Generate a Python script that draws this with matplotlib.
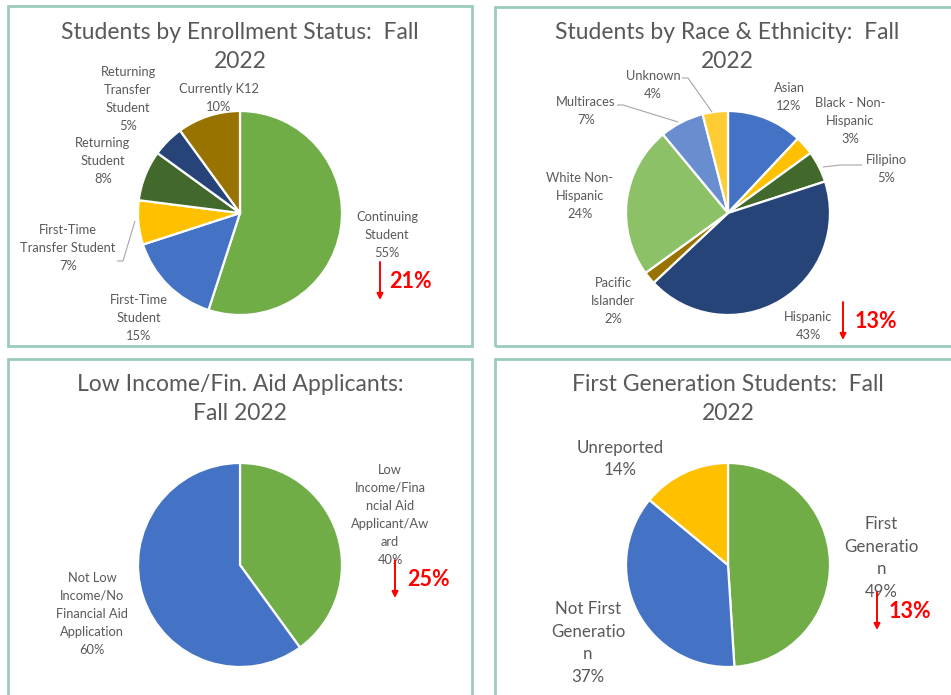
import matplotlib
matplotlib.use("Agg")
import matplotlib.pyplot as plt
from matplotlib.patches import Rectangle

plt.rcParams['font.family'] = ['Lato', 'DejaVu Sans']

# ---------------- data ----------------
enroll_title = "Students by Enrollment Status:  Fall\n2022"
enroll_labels = ["Continuing\nStudent", "First-Time\nStudent", "First-Time\nTransfer Student",
                 "Returning\nStudent", "Returning\nTransfer\nStudent", "Currently K12"]
enroll_values = [55, 15, 7, 8, 5, 10]

race_title = "Students by Race & Ethnicity:  Fall\n2022"
race_labels = ["Asian", "Black - Non-\nHispanic", "Filipino", "Hispanic", "Pacific\nIslander",
               "White Non-\nHispanic", "Multiraces", "Unknown"]
race_values = [12, 3, 5, 43, 2, 24, 7, 4]

income_title = "Low Income/Fin. Aid Applicants:\nFall 2022"
income_labels = ["Low\nIncome/Fina\nncial Aid\nApplicant/Aw\nard", "Not Low\nIncome/No\nFinancial Aid\nApplication"]
income_values = [40, 60]

firstgen_title = "First Generation Students:  Fall\n2022"
firstgen_labels = ["First\nGeneratio\nn", "Not First\nGeneratio\nn", "Unreported"]
firstgen_values = [49, 37, 14]

change_labels = ["21%", "13%", "25%", "13%"]

# ---------------- style ----------------
GREEN, BLUE, YELLOW = '#70AD47', '#4472C4', '#FFC000'
DKGREEN, NAVY, GOLD = '#43682B', '#264478', '#997300'
LTGREEN, LTBLUE, LTYELLOW = '#8CC168', '#698ED0', '#FFCD33'
TXT = '#595959'
BORDER = '#9CCBBA'
LEADER = '#A6A6A6'

W, H = 951, 695
fig = plt.figure(figsize=(W / 100, H / 100), dpi=100)
ax = fig.add_axes([0, 0, 1, 1])


def P(x, y):
    return (x, H - y)


# panel borders
for (x0, y0, x1, y1) in [(8, 6, 472, 346), (495, 7, 960, 346), (8, 359, 472, 705), (495, 359, 960, 705)]:
    ax.add_patch(Rectangle(P(x0, y1), x1 - x0, y1 - y0, fill=False, edgecolor=BORDER, lw=2.0))

wp = dict(edgecolor='white', linewidth=1.6)
R = 102


def pie(values, colors, cx, cy, r=R):
    ax.pie(values, colors=colors, startangle=90, counterclock=False,
           center=P(cx, cy), radius=r, wedgeprops=wp, frame=True)


def title(s, cx, cy):
    ax.text(*P(cx, cy), s, ha='center', va='center', fontsize=16.5, color=TXT,
            linespacing=1.42, multialignment='center')


def lab(s, v, x, y, fs=9.3, ls=1.62):
    ax.text(*P(x, y), f"{s}\n{v}%", ha='center', va='center', fontsize=fs, color=TXT,
            linespacing=ls, multialignment='center')


def leader(pts):
    xs = [p[0] for p in pts]
    ys = [H - p[1] for p in pts]
    ax.plot(xs, ys, color=LEADER, lw=0.8, solid_capstyle='butt')


def change(s, ax_x, y0, y1, tx):
    ax.annotate('', xy=P(ax_x, y1), xytext=P(ax_x, y0),
                arrowprops=dict(arrowstyle='-|>', color='#FF0000', lw=1.4, mutation_scale=9,
                                shrinkA=0, shrinkB=0))
    ax.text(*P(tx, (y0 + y1) / 2), s, ha='left', va='center', fontsize=15.5,
            fontweight='bold', color='#FF0000')


# ---- panel 1 ----
title(enroll_title, 240, 47)
pie(enroll_values, [GREEN, BLUE, YELLOW, DKGREEN, NAVY, GOLD], 240, 213)
enroll_pos = [(387, 235), (139, 318), (68, 248), (103, 161), (128, 99), (219, 98)]
for s, v, (x, y) in zip(enroll_labels, enroll_values, enroll_pos):
    lab(s, v, x, y)
leader([(117, 261), (123, 261), (135, 221)])
change(change_labels[0], 380, 262, 300, 389)

# ---- panel 2 ----
title(race_title, 727, 47)
pie(race_values, [BLUE, YELLOW, DKGREEN, NAVY, GOLD, LTGREEN, LTBLUE, LTYELLOW], 728, 213)
race_pos = [(789, 97), (850, 121), (886, 169), (808, 326), (613, 301), (580, 196), (586, 111), (653, 85)]
for s, v, (x, y) in zip(race_labels, race_values, race_pos):
    lab(s, v, x, y)
leader([(682, 78), (688, 78), (712, 112)])
leader([(617, 105), (623, 105), (678, 122)])
leader([(862, 165), (840, 165), (823, 167)])
change(change_labels[1], 843, 302, 340, 855)

# ---- panel 3 ----
title(income_title, 240, 399)
pie(income_values, [GREEN, BLUE], 240, 565)
lab(income_labels[0], income_values[0], 390, 515)
lab(income_labels[1], income_values[1], 92, 614)
change(change_labels[2], 395, 560, 598, 407)

# ---- panel 4 ----
title(firstgen_title, 728, 399)
pie(firstgen_values, [GREEN, BLUE, YELLOW], 728, 565)
fg_pos = [(881, 558), (588, 643), (620, 459)]
for s, v, (x, y) in zip(firstgen_labels, firstgen_values, fg_pos):
    lab(s, v, x, y, fs=12.2, ls=1.5)
change(change_labels[3], 877, 592, 630, 889)

ax.set_xlim(0, W)
ax.set_ylim(0, H)
ax.set_aspect('equal')
ax.axis('off')
fig.savefig("out.png", dpi=100)
